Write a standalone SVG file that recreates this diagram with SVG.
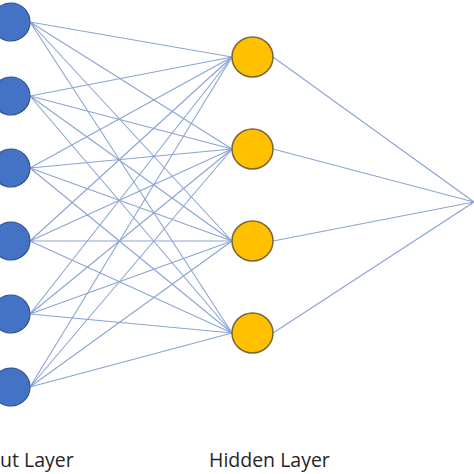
<svg xmlns="http://www.w3.org/2000/svg" width="474" height="474" viewBox="0 0 474 474">
<style>
.edge{stroke:#8AA4D4;stroke-width:1.1;fill:none}
.inp{fill:#4472C4;stroke:#2F528F;stroke-width:1.2}
.hid{fill:#FFC000;stroke:#7A6636;stroke-width:1.5}
.lbl{font-family:"Open Sans","Liberation Sans",sans-serif;font-size:19.5px;fill:#262626}
</style>
<rect width="474" height="474" fill="#ffffff"/>
<g id="connectors">
<path class="edge" d="M30 22L232 57M30 22L232 149M30 22L232 241M30 22L232 333"/>
<path class="edge" d="M30 96L232 57M30 96L232 149M30 96L232 241M30 96L232 333"/>
<path class="edge" d="M30 168L232 57M30 168L232 149M30 168L232 241M30 168L232 333"/>
<path class="edge" d="M30 241L232 57M30 241L232 149M30 241L232 241M30 241L232 333"/>
<path class="edge" d="M30 314L232 57M30 314L232 149M30 314L232 241M30 314L232 333"/>
<path class="edge" d="M30 387L232 57M30 387L232 149M30 387L232 241M30 387L232 333"/>
<path class="edge" d="M273 57L474 202M273 149L474 202M273 241L474 202M273 333L474 202"/>
</g>
<g id="in1"><circle class="inp" cx="11" cy="22" r="19"/></g>
<g id="in2"><circle class="inp" cx="11" cy="96" r="19"/></g>
<g id="in3"><circle class="inp" cx="11" cy="168" r="19"/></g>
<g id="in4"><circle class="inp" cx="11" cy="241" r="19"/></g>
<g id="in5"><circle class="inp" cx="11" cy="314" r="19"/></g>
<g id="in6"><circle class="inp" cx="11" cy="387" r="19"/></g>
<g id="h1"><ellipse class="hid" cx="252.5" cy="57" rx="20.5" ry="20"/></g>
<g id="h2"><ellipse class="hid" cx="252.5" cy="149" rx="20.5" ry="20"/></g>
<g id="h3"><ellipse class="hid" cx="252.5" cy="241" rx="20.5" ry="20"/></g>
<g id="h4"><ellipse class="hid" cx="252.5" cy="333" rx="20.5" ry="20"/></g>
<g id="labels">
<text class="lbl" x="0" y="467">ut Layer</text>
<text class="lbl" x="209" y="467">Hidden Layer</text>
</g>
</svg>
